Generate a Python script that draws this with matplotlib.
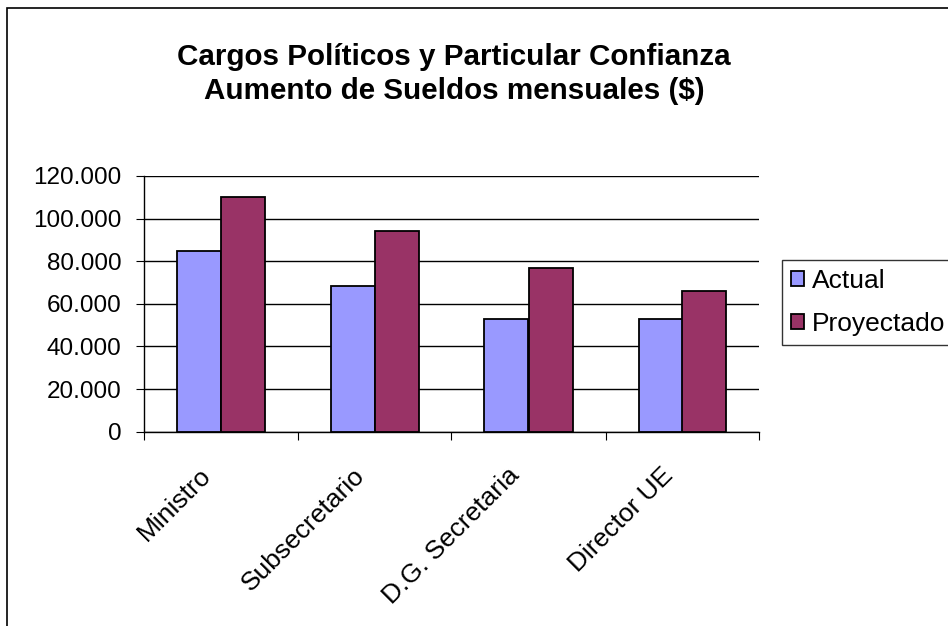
import matplotlib
matplotlib.use('Agg')
import matplotlib.pyplot as plt
from matplotlib.patches import Rectangle
from matplotlib.ticker import FuncFormatter
import numpy as np

plt.rcParams['font.family'] = ['Liberation Sans', 'DejaVu Sans']

# data
cargos = ['Ministro', 'Subsecretario', 'D.G. Secretaria', 'Director UE']
actual = [85000, 68500, 52700, 52700]
proyectado = [110000, 94300, 77000, 66000]

W, H = 948, 626
fig = plt.figure(figsize=(W / 100, H / 100), dpi=100)

# outer chart border (right/bottom edges are cropped off in the source)
fig.patches.append(Rectangle((7 / W, -0.1), 1.2, 1 - 8 / H + 0.1, transform=fig.transFigure,
                             fill=False, edgecolor='black', linewidth=1.2))

ax = fig.add_axes([143.5 / W, 1 - 431.7 / H, (759.5 - 143.5) / W, (431.7 - 176) / H])

x = np.arange(len(cargos))
bw = 44 / 154
ax.bar(x - bw / 2, actual, bw, color='#9999ff', edgecolor='black', linewidth=1.3, label='Actual', zorder=3)
ax.bar(x + bw / 2, proyectado, bw, color='#993366', edgecolor='black', linewidth=1.3, label='Proyectado', zorder=3)

ax.set_xlim(-0.5, len(cargos) - 0.5)
ax.set_ylim(0, 120000)
ax.set_yticks(range(0, 120001, 20000))
ax.yaxis.set_major_formatter(FuncFormatter(lambda v, p: '0' if v == 0 else f'{int(v):,}'.replace(',', '.')))
ax.grid(axis='y', color='black', linewidth=1, zorder=0)

# category ticks sit between the groups, names are rotated under each group
ax.set_xticks(np.arange(-0.5, len(cargos), 1))
ax.set_xticklabels([])
for xi, name in zip(x, cargos):
    ax.annotate(name, xy=(xi, 0), xycoords=('data', 'axes fraction'),
                xytext=(-9.5, -29), textcoords='offset points',
                rotation=45, ha='right', va='center', rotation_mode='anchor', fontsize=19)
ax.tick_params(axis='x', which='major', length=6, direction='out')
ax.tick_params(axis='y', length=6, labelsize=17.5, pad=10)

for s in ['top', 'right']:
    ax.spines[s].set_visible(False)
ax.spines['left'].set_linewidth(1)
ax.spines['bottom'].set_linewidth(1)

fig.text(454 / W, 1 - 74 / H, 'Cargos Políticos y Particular Confianza\nAumento de Sueldos mensuales ($)',
         ha='center', va='center', fontsize=21.3, fontweight='bold', linespacing=1.3)

leg = fig.legend(loc='upper left', bbox_to_anchor=(782 / W, 1 - 260 / H), fontsize=19,
                 frameon=True, fancybox=False, edgecolor='black', handlelength=0.5, handleheight=0.5,
                 handletextpad=0.3, borderpad=0.35, labelspacing=0.7, borderaxespad=0)
leg.get_frame().set_linewidth(1)

fig.savefig('out.png', dpi=100)
